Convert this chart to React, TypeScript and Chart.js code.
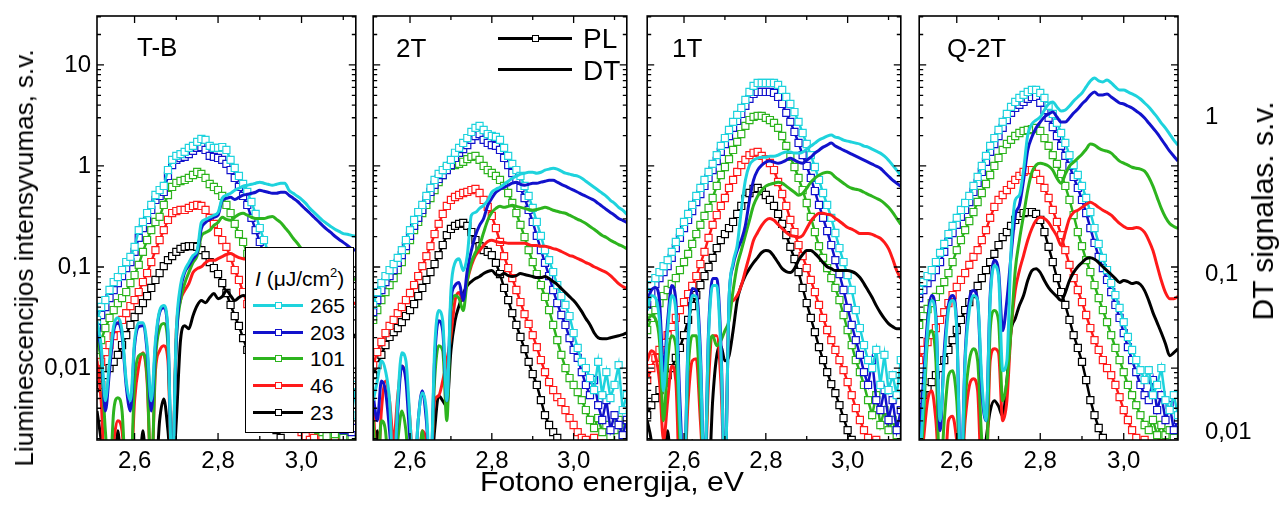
import React, { useEffect, useRef } from "react";
import { Chart, registerables } from "chart.js";

Chart.register(...registerables);

const FONT = '"Liberation Sans", Arial, Helvetica, sans-serif';

// ---------- categories / ticks ----------
const ENERGY = [
  2.51, 2.52, 2.53, 2.54, 2.55, 2.56, 2.57, 2.58, 2.59, 2.6,
  2.61, 2.62, 2.63, 2.64, 2.65, 2.66, 2.67, 2.68, 2.69, 2.7,
  2.71, 2.72, 2.73, 2.74, 2.75, 2.76, 2.77, 2.78, 2.79, 2.8,
  2.81, 2.82, 2.83, 2.84, 2.85, 2.86, 2.87, 2.88, 2.89, 2.9,
  2.91, 2.92, 2.93, 2.94, 2.95, 2.96, 2.97, 2.98, 2.99, 3.0,
  3.01, 3.02, 3.03, 3.04, 3.05, 3.06, 3.07, 3.08, 3.09, 3.1,
  3.11, 3.12, 3.13,
];
const INTENSITY_LABELS = ["265", "203", "101", "46", "23"];
const SERIES_COLORS = ["#1ED3DD", "#1212CC", "#2DB41E", "#FF1A1A", "#000000"];
const PANEL_NAMES = ["T-B", "2T", "1T", "Q-2T"];
const X_MAJOR_TICKS = [2.6, 2.8, 3.0];
const X_TICK_LABELS = ["2,6", "2,8", "3,0"];
const X_MINOR_TICKS = [2.7, 2.9, 3.1];
const PL_TICKS = [0.01, 0.1, 1, 10];
const PL_TICK_LABELS = ["0,01", "0,1", "1", "10"];
const DT_TICKS = [0.01, 0.1, 1];
const DT_TICK_LABELS = ["0,01", "0,1", "1"];

// ---------- T-B ----------
const TB_PL_265 = [0.0299,0.0402,0.0471,0.0592,0.071,0.0796,0.0933,0.112,0.126,0.158,0.232,0.279,0.342,0.411,0.516,0.578,0.634,0.912,1.15,1.26,1.31,1.38,1.51,1.58,1.73,1.85,1.81,1.58,1.51,1.51,1.54,1.44,1.15,0.955,0.796,0.663,0.553,0.44,0.335,0.243,0.185,0.141,0.107,0.0796,0.0592,0.045,0.0335,0.0249,0.0189,0.0144,0.0115,0.00912,0.00727,0.00578,0.00482,0.0043,0.00384,0.00306,0.00342,0.00273,0.0076,0.0034,0.0068];
const TB_PL_203 = [0.0249,0.0335,0.0402,0.0493,0.0592,0.0694,0.0814,0.0977,0.112,0.141,0.194,0.243,0.292,0.367,0.461,0.505,0.553,0.796,1.02,1.15,1.2,1.23,1.31,1.41,1.51,1.54,1.44,1.26,1.23,1.2,1.15,1.05,0.912,0.761,0.62,0.505,0.411,0.306,0.232,0.177,0.135,0.102,0.0761,0.0565,0.043,0.0327,0.0249,0.0189,0.0151,0.012,0.00955,0.00761,0.00634,0.00528,0.00461,0.00402,0.00342,0.00306,0.00273,0.00243,0.00306,0.00232,0.00255];
const TB_PL_101 = [0.0151,0.0189,0.0249,0.0313,0.0375,0.044,0.0493,0.0565,0.0694,0.0833,0.105,0.141,0.185,0.232,0.279,0.313,0.411,0.516,0.62,0.679,0.71,0.727,0.761,0.814,0.872,0.833,0.761,0.663,0.62,0.578,0.505,0.411,0.342,0.267,0.212,0.177,0.135,0.102,0.0778,0.0592,0.045,0.0335,0.0255,0.0189,0.0144,0.0115,0.00912,0.00694,0.00553,0.00461,0.00384,0.0032,0.00273,0.00243,0.00232,0.00212,0.00255,0.00222,0.00273,0.00203,0.00243,0.00212,0.00243];
const TB_PL_46 = [0.00852,0.0115,0.0144,0.0169,0.0207,0.0249,0.0299,0.035,0.0411,0.0471,0.0565,0.071,0.0872,0.112,0.147,0.185,0.232,0.292,0.342,0.358,0.367,0.367,0.384,0.402,0.411,0.402,0.367,0.306,0.267,0.222,0.185,0.158,0.123,0.0933,0.0744,0.0565,0.043,0.0327,0.0249,0.0189,0.0144,0.0115,0.00872,0.0068,0.0054,0.0043,0.00358,0.00306,0.00267,0.00232,0.00212,0.00194,0.00203,0.0017,0.00212,0.0018,0.0016,0.0019,0.0017,0.0015,0.002,0.0017,0.0015];
const TB_PL_23 = [0.0054,0.0068,0.00852,0.01,0.0115,0.0135,0.0169,0.0212,0.0267,0.032,0.0375,0.044,0.0516,0.062,0.0744,0.0872,0.102,0.117,0.128,0.141,0.151,0.158,0.161,0.161,0.158,0.147,0.131,0.112,0.0977,0.0852,0.0694,0.0553,0.0421,0.0327,0.0261,0.0198,0.0151,0.0115,0.00872,0.00663,0.00505,0.00384,0.00306,0.00243,0.00203,0.0017,0.0012,0.0012,0.0012,0.0012,0.0012,0.0012,0.0012,0.0012,0.0012,0.0012,0.0012,0.0012,0.0012,0.0012,0.0012,0.0012,0.0012];
const TB_DT_265 = [0.0509,0.0353,0.0158,0.0283,0.0473,0.0532,0.044,0.0211,0.0158,0.038,0.0495,0.0495,0.0353,0.0158,0.038,0.059,0.0635,0.044,0.005,0.044,0.0851,0.106,0.119,0.132,0.142,0.214,0.224,0.231,0.238,0.248,0.305,0.319,0.328,0.343,0.353,0.364,0.369,0.374,0.38,0.386,0.38,0.374,0.369,0.374,0.38,0.38,0.343,0.328,0.314,0.3,0.283,0.263,0.248,0.234,0.221,0.211,0.202,0.194,0.188,0.182,0.18,0.177,0.175];
const TB_DT_203 = [0.044,0.0328,0.0136,0.0245,0.044,0.0495,0.0409,0.0196,0.0136,0.0353,0.0467,0.0473,0.0328,0.0136,0.0353,0.0573,0.0616,0.0409,0.005,0.038,0.0791,0.103,0.114,0.126,0.138,0.196,0.214,0.224,0.231,0.238,0.296,0.305,0.309,0.3,0.309,0.319,0.323,0.328,0.333,0.343,0.338,0.333,0.328,0.328,0.333,0.333,0.319,0.305,0.292,0.275,0.259,0.245,0.231,0.218,0.205,0.194,0.185,0.175,0.167,0.16,0.153,0.146,0.142];
const TB_DT_101 = [0.038,0.0283,0.0102,0.005,0.0136,0.0165,0.0136,0.005,0.005,0.0211,0.0305,0.0314,0.0227,0.005,0.0283,0.0453,0.0488,0.0353,0.005,0.038,0.0683,0.0876,0.103,0.119,0.132,0.175,0.185,0.191,0.205,0.214,0.231,0.224,0.221,0.231,0.241,0.245,0.238,0.231,0.227,0.227,0.227,0.231,0.234,0.224,0.214,0.199,0.185,0.17,0.158,0.146,0.136,0.128,0.121,0.114,0.109,0.106,0.103,0.1,0.0985,0.0971,0.0957,0.0943,0.0929];
const TB_DT_46 = [0.0283,0.0158,0.005,0.005,0.0088,0.0118,0.0102,0.005,0.005,0.0158,0.0263,0.0319,0.0211,0.005,0.0245,0.0328,0.0353,0.0283,0.005,0.044,0.0683,0.0791,0.0876,0.103,0.109,0.112,0.119,0.123,0.123,0.126,0.13,0.134,0.136,0.132,0.128,0.126,0.125,0.123,0.121,0.119,0.118,0.116,0.114,0.109,0.103,0.0971,0.0916,0.0864,0.0826,0.0791,0.0768,0.0746,0.0724,0.0714,0.0703,0.0693,0.0683,0.0673,0.0673,0.0663,0.0663,0.0663,0.0654];
const TB_DT_23 = [0.0136,0.0088,0.005,0.005,0.005,0.0102,0.005,0.005,0.005,0.005,0.005,0.0102,0.005,0.005,0.005,0.0118,0.0162,0.0102,0.005,0.0118,0.038,0.0473,0.0453,0.0548,0.0635,0.0683,0.0663,0.0714,0.0757,0.0703,0.0724,0.0791,0.0735,0.0683,0.0714,0.0735,0.0724,0.0703,0.0683,0.0663,0.0644,0.0635,0.0625,0.0607,0.059,0.0573,0.0556,0.054,0.0525,0.0509,0.0495,0.048,0.0467,0.0453,0.0446,0.044,0.0434,0.0427,0.0421,0.0421,0.0415,0.0415,0.0409];

// ---------- 2T ----------
const T2_PL_265 = [0.0421,0.0565,0.0694,0.0814,0.0933,0.107,0.123,0.147,0.185,0.232,0.292,0.35,0.411,0.505,0.606,0.727,0.833,0.912,1,1.15,1.35,1.51,1.69,1.89,2.17,2.38,2.49,2.27,2.07,1.98,1.94,1.81,1.51,1.26,1.05,0.912,0.796,0.634,0.505,0.384,0.279,0.203,0.147,0.117,0.0892,0.0663,0.0516,0.0421,0.0327,0.0222,0.0158,0.0115,0.01,0.00796,0.00606,0.0115,0.0054,0.00912,0.00505,0.0068,0.0107,0.00384,0.0054];
const T2_PL_203 = [0.0358,0.0471,0.0592,0.071,0.0814,0.0933,0.11,0.131,0.161,0.203,0.255,0.306,0.367,0.461,0.553,0.649,0.744,0.814,0.912,1.02,1.2,1.35,1.47,1.61,1.81,1.98,2.07,1.81,1.69,1.61,1.58,1.44,1.2,1.02,0.852,0.727,0.606,0.482,0.367,0.279,0.203,0.147,0.11,0.0814,0.0592,0.044,0.0335,0.0267,0.0198,0.0151,0.0126,0.00912,0.0068,0.0054,0.00761,0.0043,0.00306,0.00482,0.00243,0.00342,0.00273,0.00217,0.00306];
const T2_PL_101 = [0.0299,0.0375,0.0471,0.0565,0.0663,0.0778,0.0933,0.112,0.147,0.185,0.232,0.279,0.342,0.411,0.482,0.578,0.694,0.814,0.955,1,1.02,1.05,1.1,1.17,1.23,1.26,1.15,1,0.912,0.852,0.796,0.727,0.634,0.54,0.43,0.342,0.261,0.198,0.147,0.112,0.0852,0.0663,0.0505,0.0375,0.0267,0.0189,0.0135,0.01,0.00796,0.0068,0.00578,0.00482,0.00384,0.00306,0.00255,0.0032,0.00232,0.00273,0.00212,0.00243,0.00306,0.00217,0.00255];
const T2_PL_46 = [0.0107,0.0144,0.0181,0.0222,0.0261,0.0299,0.035,0.0402,0.0471,0.0553,0.0663,0.0814,0.102,0.128,0.161,0.212,0.267,0.335,0.402,0.461,0.493,0.516,0.54,0.553,0.578,0.592,0.54,0.461,0.393,0.32,0.243,0.177,0.128,0.0977,0.0778,0.0592,0.045,0.0342,0.0273,0.0212,0.0161,0.012,0.00912,0.00727,0.00606,0.00516,0.00461,0.00384,0.0032,0.00273,0.00232,0.00203,0.00194,0.0017,0.00203,0.0016,0.0018,0.0015,0.0017,0.0015,0.0017,0.0015,0.0016];
const T2_PL_23 = [0.00852,0.0107,0.0135,0.0169,0.0203,0.0227,0.0249,0.0285,0.0327,0.0375,0.043,0.0516,0.062,0.0744,0.0892,0.107,0.131,0.165,0.207,0.238,0.255,0.267,0.273,0.255,0.222,0.185,0.161,0.147,0.141,0.131,0.11,0.0852,0.062,0.0471,0.035,0.0267,0.0203,0.0154,0.0115,0.00872,0.0068,0.00482,0.00342,0.00273,0.00232,0.00203,0.0012,0.0012,0.0012,0.0012,0.0012,0.0012,0.0012,0.0012,0.0012,0.0012,0.0012,0.0012,0.0012,0.0012,0.0012,0.0012,0.0012];
const T2_DT_265 = [0.0158,0.0211,0.0283,0.0245,0.0158,0.005,0.0158,0.0319,0.0283,0.0118,0.005,0.0118,0.0177,0.0136,0.005,0.0328,0.059,0.0509,0.0158,0.0791,0.119,0.126,0.106,0.132,0.238,0.248,0.263,0.275,0.296,0.333,0.348,0.358,0.374,0.391,0.409,0.421,0.434,0.44,0.446,0.446,0.44,0.446,0.46,0.467,0.473,0.467,0.453,0.44,0.434,0.427,0.421,0.409,0.391,0.374,0.358,0.343,0.328,0.314,0.296,0.283,0.267,0.256,0.241];
const T2_DT_203 = [0.017,0.0118,0.0211,0.0183,0.0102,0.005,0.0136,0.0263,0.0211,0.0088,0.005,0.0118,0.0183,0.0118,0.005,0.0283,0.0509,0.044,0.0158,0.0683,0.0851,0.0889,0.0683,0.106,0.142,0.177,0.205,0.227,0.275,0.305,0.333,0.348,0.358,0.369,0.38,0.386,0.374,0.369,0.374,0.38,0.38,0.386,0.391,0.397,0.397,0.386,0.374,0.364,0.353,0.343,0.333,0.323,0.314,0.305,0.296,0.283,0.271,0.259,0.248,0.238,0.227,0.221,0.214];
const T2_DT_101 = [0.0118,0.005,0.0118,0.0102,0.005,0.005,0.0088,0.0136,0.0102,0.005,0.005,0.005,0.0102,0.005,0.005,0.0211,0.0353,0.0328,0.0118,0.059,0.0735,0.0703,0.059,0.0916,0.119,0.138,0.153,0.185,0.221,0.248,0.263,0.271,0.267,0.271,0.275,0.271,0.267,0.263,0.259,0.256,0.259,0.263,0.267,0.263,0.256,0.252,0.248,0.245,0.238,0.231,0.224,0.218,0.211,0.202,0.194,0.185,0.177,0.172,0.165,0.16,0.155,0.151,0.146];
const T2_DT_46 = [0.0158,0.005,0.0136,0.0211,0.0158,0.0088,0.017,0.0263,0.0227,0.0118,0.005,0.005,0.0102,0.0088,0.005,0.0158,0.017,0.0211,0.0283,0.0409,0.0683,0.0768,0.0683,0.0916,0.114,0.132,0.142,0.153,0.162,0.165,0.162,0.16,0.16,0.158,0.158,0.158,0.158,0.158,0.155,0.153,0.153,0.151,0.151,0.149,0.146,0.144,0.14,0.136,0.132,0.13,0.126,0.123,0.119,0.116,0.112,0.109,0.106,0.103,0.0985,0.0929,0.0876,0.0839,0.0814];
const T2_DT_23 = [0.005,0.0102,0.005,0.005,0.005,0.005,0.005,0.005,0.005,0.005,0.005,0.005,0.0088,0.005,0.005,0.0102,0.017,0.0158,0.0146,0.0328,0.0509,0.0635,0.0757,0.0851,0.0902,0.0943,0.0971,0.1015,0.1045,0.106,0.1,0.0985,0.1015,0.0985,0.0971,0.0985,0.1015,0.1,0.0985,0.0971,0.0957,0.0957,0.0971,0.0943,0.0902,0.0864,0.0814,0.0768,0.0724,0.0683,0.0635,0.0581,0.0525,0.048,0.0427,0.0397,0.0391,0.0391,0.0397,0.0403,0.0409,0.0415,0.0427];

// ---------- 1T ----------
const T1_PL_265 = [0.0528,0.0663,0.0778,0.0892,0.102,0.117,0.141,0.177,0.222,0.279,0.335,0.411,0.505,0.606,0.727,0.872,1.05,1.28,1.58,1.89,2.27,2.73,3.2,3.75,4.5,5.4,6.2,6.63,6.63,6.63,6.63,6.63,6.34,5.65,4.82,4.11,3.42,2.73,2.12,1.65,1.28,0.977,0.727,0.54,0.411,0.306,0.217,0.154,0.112,0.0833,0.0592,0.0375,0.0249,0.0169,0.012,0.01,0.0151,0.0068,0.0135,0.00606,0.00852,0.0054,0.012];
const T1_PL_203 = [0.0421,0.0565,0.0679,0.0778,0.0892,0.102,0.123,0.154,0.194,0.243,0.292,0.358,0.44,0.528,0.634,0.761,0.912,1.12,1.38,1.65,1.98,2.38,2.79,3.27,3.93,4.61,5.16,5.4,5.4,5.4,5.4,5.28,4.82,4.11,3.35,2.73,2.17,1.69,1.28,1,0.761,0.565,0.411,0.306,0.227,0.165,0.117,0.0852,0.0592,0.0393,0.0267,0.0189,0.0135,0.00912,0.0068,0.012,0.00482,0.00384,0.00606,0.00306,0.00482,0.00243,0.00384];
const T1_PL_101 = [0.0238,0.0313,0.0375,0.044,0.0516,0.0592,0.0679,0.0778,0.0933,0.112,0.135,0.169,0.212,0.261,0.32,0.384,0.482,0.634,0.814,0.977,1.17,1.44,1.73,2.07,2.49,2.85,3.06,3.13,3.13,2.99,2.85,2.67,2.38,1.98,1.58,1.23,0.977,0.761,0.578,0.43,0.313,0.222,0.161,0.123,0.0977,0.0778,0.062,0.0471,0.0335,0.0238,0.0169,0.012,0.00912,0.0068,0.00482,0.00342,0.0054,0.00273,0.00384,0.00243,0.00306,0.00217,0.00273];
const T1_PL_46 = [0.00761,0.01,0.0126,0.0151,0.0177,0.0212,0.0255,0.0313,0.0375,0.045,0.054,0.0649,0.0814,0.107,0.141,0.194,0.261,0.327,0.402,0.482,0.606,0.727,0.872,1.02,1.15,1.28,1.35,1.38,1.26,1.17,1.07,0.912,0.694,0.528,0.402,0.292,0.222,0.165,0.128,0.0977,0.0744,0.0565,0.0421,0.0313,0.0238,0.0189,0.0151,0.012,0.00955,0.00727,0.0054,0.00402,0.00306,0.00243,0.00203,0.0017,0.00194,0.0015,0.0017,0.0015,0.0018,0.0015,0.0017];
const T1_PL_23 = [0.00342,0.0043,0.00505,0.00606,0.0071,0.00852,0.01,0.0126,0.0158,0.0212,0.0299,0.0411,0.0528,0.0663,0.0814,0.1,0.123,0.154,0.185,0.212,0.243,0.279,0.335,0.402,0.471,0.54,0.592,0.606,0.565,0.516,0.461,0.402,0.335,0.267,0.207,0.158,0.12,0.0892,0.062,0.044,0.0313,0.0227,0.0161,0.012,0.00912,0.00694,0.00565,0.0043,0.0032,0.00243,0.00194,0.0012,0.0012,0.0012,0.0012,0.0012,0.0012,0.0012,0.0012,0.0012,0.0012,0.0012,0.0012];
const T1_DT_265 = [0.059,0.0735,0.0714,0.0509,0.0183,0.044,0.0735,0.059,0.0118,0.005,0.0353,0.0735,0.0724,0.0283,0.005,0.0409,0.0851,0.0851,0.0328,0.005,0.0683,0.119,0.153,0.256,0.397,0.495,0.532,0.548,0.556,0.556,0.564,0.564,0.573,0.59,0.599,0.599,0.59,0.59,0.599,0.625,0.654,0.683,0.714,0.735,0.757,0.768,0.746,0.735,0.714,0.703,0.693,0.683,0.673,0.654,0.644,0.625,0.607,0.59,0.564,0.532,0.495,0.46,0.427];
const T1_DT_203 = [0.0683,0.0791,0.0826,0.0683,0.0245,0.0509,0.0851,0.0683,0.0158,0.005,0.038,0.0814,0.0791,0.0328,0.005,0.044,0.0943,0.0943,0.038,0.005,0.0683,0.114,0.142,0.165,0.205,0.296,0.397,0.46,0.495,0.517,0.525,0.517,0.509,0.517,0.532,0.548,0.532,0.517,0.509,0.532,0.556,0.59,0.616,0.644,0.663,0.683,0.654,0.635,0.616,0.599,0.581,0.564,0.548,0.532,0.517,0.502,0.488,0.473,0.446,0.421,0.397,0.38,0.364];
const T1_DT_101 = [0.0509,0.0548,0.0525,0.038,0.0118,0.0283,0.0409,0.0353,0.0088,0.005,0.0245,0.0409,0.0409,0.0158,0.005,0.0283,0.0409,0.0353,0.038,0.044,0.0509,0.0791,0.114,0.142,0.177,0.221,0.275,0.314,0.343,0.364,0.374,0.38,0.386,0.38,0.364,0.348,0.333,0.319,0.328,0.353,0.386,0.409,0.427,0.44,0.446,0.44,0.415,0.397,0.38,0.364,0.353,0.348,0.343,0.333,0.323,0.314,0.305,0.296,0.283,0.267,0.248,0.227,0.208];
const T1_DT_46 = [0.0283,0.0328,0.0305,0.0211,0.0088,0.0158,0.0263,0.0211,0.005,0.005,0.0158,0.0283,0.0292,0.0118,0.005,0.0211,0.0409,0.0409,0.0211,0.005,0.059,0.0683,0.0735,0.0851,0.106,0.132,0.165,0.185,0.205,0.221,0.227,0.221,0.208,0.196,0.185,0.177,0.175,0.172,0.177,0.196,0.218,0.234,0.245,0.245,0.241,0.238,0.227,0.218,0.208,0.199,0.194,0.188,0.182,0.182,0.182,0.18,0.175,0.17,0.16,0.146,0.126,0.106,0.0943];
const T1_DT_23 = [0.0118,0.0088,0.005,0.005,0.005,0.0102,0.005,0.005,0.005,0.005,0.005,0.0088,0.005,0.005,0.005,0.005,0.0158,0.0305,0.0353,0.0283,0.0305,0.044,0.0683,0.0851,0.0985,0.109,0.119,0.128,0.138,0.142,0.14,0.13,0.119,0.109,0.1045,0.103,0.109,0.123,0.134,0.142,0.142,0.136,0.128,0.119,0.112,0.109,0.106,0.106,0.106,0.106,0.1045,0.1015,0.0957,0.0876,0.0791,0.0714,0.0635,0.0573,0.0525,0.0488,0.0467,0.0453,0.0453];

// ---------- Q-2T ----------
const Q_PL_265 = [0.0592,0.071,0.0814,0.0933,0.112,0.138,0.169,0.212,0.255,0.306,0.367,0.43,0.505,0.634,0.778,1,1.26,1.58,1.89,2.27,2.73,3.27,3.84,4.3,4.71,5.05,5.4,5.65,5.65,5.28,4.71,3.93,3.27,2.67,2.12,1.69,1.28,1.02,0.814,0.634,0.482,0.35,0.243,0.169,0.123,0.0933,0.0694,0.0528,0.0393,0.0285,0.0203,0.0151,0.012,0.00955,0.00761,0.00955,0.0054,0.0068,0.01,0.00482,0.00384,0.0054,0.00342];
const Q_PL_203 = [0.0493,0.0592,0.0694,0.0796,0.0933,0.112,0.141,0.177,0.217,0.261,0.313,0.367,0.44,0.553,0.679,0.872,1.1,1.38,1.65,1.98,2.38,2.85,3.35,3.75,4.02,4.3,4.61,4.82,4.82,4.21,3.58,2.99,2.43,1.98,1.58,1.26,1,0.778,0.606,0.461,0.342,0.243,0.173,0.126,0.0977,0.0744,0.0565,0.0421,0.0313,0.0222,0.0161,0.012,0.00912,0.0068,0.0054,0.00482,0.00761,0.00384,0.0054,0.00306,0.0043,0.00243,0.00306];
const Q_PL_101 = [0.0267,0.0327,0.0384,0.044,0.0505,0.0592,0.071,0.0872,0.112,0.147,0.185,0.232,0.285,0.35,0.44,0.54,0.663,0.814,1,1.2,1.44,1.65,1.81,1.98,2.12,2.22,2.27,2.32,2.38,2.22,1.89,1.58,1.28,1.05,0.833,0.634,0.461,0.327,0.222,0.161,0.117,0.0892,0.0663,0.0493,0.0375,0.0285,0.0212,0.0158,0.012,0.00912,0.0068,0.0054,0.0043,0.00342,0.00273,0.00243,0.00306,0.00217,0.00273,0.00217,0.00243,0.00203,0.00243];
const Q_PL_46 = [0.012,0.0151,0.0181,0.0212,0.0249,0.0299,0.0358,0.044,0.0528,0.0634,0.0744,0.0872,0.105,0.126,0.147,0.185,0.232,0.306,0.393,0.461,0.516,0.578,0.649,0.727,0.796,0.872,0.912,0.912,0.833,0.727,0.606,0.482,0.367,0.279,0.207,0.147,0.105,0.0778,0.0592,0.045,0.0335,0.0249,0.0189,0.0151,0.012,0.01,0.00852,0.0068,0.00516,0.00384,0.00306,0.00243,0.00203,0.0017,0.00194,0.0015,0.0017,0.0015,0.0018,0.0015,0.0017,0.0015,0.0016];
const Q_PL_23 = [0.00482,0.0054,0.00634,0.00727,0.00852,0.01,0.012,0.0151,0.0189,0.0238,0.0299,0.0375,0.045,0.054,0.0649,0.0778,0.0933,0.112,0.135,0.165,0.198,0.222,0.255,0.292,0.32,0.342,0.35,0.35,0.335,0.292,0.222,0.158,0.112,0.0778,0.0565,0.0421,0.0299,0.0212,0.0158,0.0115,0.00761,0.00482,0.00342,0.00255,0.00203,0.0012,0.0012,0.0012,0.0012,0.0012,0.0012,0.0012,0.0012,0.0012,0.0012,0.0012,0.0012,0.0012,0.0012,0.0012,0.0012,0.0012,0.0012];
const Q_DT_265 = [0.005,0.0158,0.044,0.0683,0.0509,0.0118,0.0283,0.059,0.0683,0.044,0.005,0.0283,0.059,0.0735,0.0683,0.0211,0.0118,0.0683,0.114,0.0985,0.0245,0.0283,0.142,0.296,0.319,0.46,0.768,0.902,0.957,1,1.108,1.21,1.246,1.158,1.092,1.108,1.175,1.264,1.341,1.422,1.553,1.696,1.772,1.696,1.671,1.721,1.647,1.553,1.486,1.486,1.443,1.401,1.361,1.302,1.228,1.158,1.076,1,0.916,0.851,0.779,0.714,0.663];
const Q_DT_203 = [0.0088,0.0211,0.0509,0.0735,0.0548,0.0102,0.0328,0.0635,0.0735,0.0473,0.005,0.0305,0.0683,0.0791,0.0683,0.0183,0.0118,0.0735,0.123,0.106,0.044,0.0683,0.132,0.238,0.275,0.397,0.616,0.746,0.851,0.929,1,1.045,1.076,1,0.929,0.929,0.985,1.06,1.124,1.21,1.283,1.381,1.443,1.381,1.381,1.401,1.341,1.283,1.228,1.21,1.175,1.141,1.092,1.045,0.985,0.916,0.851,0.791,0.724,0.663,0.607,0.564,0.525];
const Q_DT_101 = [0.005,0.0118,0.038,0.044,0.0283,0.005,0.0118,0.0227,0.0245,0.0158,0.005,0.0158,0.0283,0.0338,0.0283,0.0088,0.005,0.044,0.059,0.0509,0.0158,0.0211,0.044,0.106,0.165,0.238,0.343,0.446,0.495,0.509,0.502,0.488,0.46,0.409,0.38,0.434,0.488,0.517,0.548,0.581,0.625,0.673,0.663,0.635,0.616,0.607,0.59,0.556,0.525,0.509,0.495,0.48,0.473,0.467,0.453,0.415,0.364,0.309,0.263,0.231,0.211,0.202,0.196];
const Q_DT_46 = [0.005,0.0088,0.0158,0.0183,0.0118,0.005,0.005,0.0118,0.0126,0.0088,0.005,0.0118,0.0196,0.0218,0.0183,0.005,0.005,0.0283,0.0338,0.0319,0.0118,0.0158,0.044,0.0791,0.106,0.132,0.165,0.196,0.221,0.231,0.227,0.214,0.194,0.175,0.153,0.185,0.227,0.248,0.256,0.267,0.279,0.288,0.279,0.267,0.256,0.248,0.238,0.224,0.211,0.202,0.196,0.196,0.199,0.196,0.185,0.165,0.142,0.114,0.0916,0.0768,0.0703,0.0703,0.0724];
const Q_DT_23 = [0.005,0.005,0.005,0.005,0.005,0.005,0.005,0.005,0.005,0.005,0.005,0.0088,0.005,0.005,0.005,0.005,0.0088,0.0136,0.0158,0.0146,0.0126,0.0211,0.044,0.0525,0.0635,0.0735,0.0916,0.106,0.109,0.103,0.0916,0.0826,0.0768,0.0724,0.0683,0.0768,0.0916,0.103,0.112,0.119,0.126,0.128,0.125,0.119,0.112,0.106,0.1,0.0943,0.0889,0.0916,0.0902,0.0876,0.0889,0.0864,0.0791,0.0683,0.0573,0.0495,0.0427,0.0364,0.0305,0.0319,0.0338];

const PANELS = [
  { pl: [TB_PL_265, TB_PL_203, TB_PL_101, TB_PL_46, TB_PL_23], dt: [TB_DT_265, TB_DT_203, TB_DT_101, TB_DT_46, TB_DT_23] },
  { pl: [T2_PL_265, T2_PL_203, T2_PL_101, T2_PL_46, T2_PL_23], dt: [T2_DT_265, T2_DT_203, T2_DT_101, T2_DT_46, T2_DT_23] },
  { pl: [T1_PL_265, T1_PL_203, T1_PL_101, T1_PL_46, T1_PL_23], dt: [T1_DT_265, T1_DT_203, T1_DT_101, T1_DT_46, T1_DT_23] },
  { pl: [Q_PL_265, Q_PL_203, Q_PL_101, Q_PL_46, Q_PL_23], dt: [Q_DT_265, Q_DT_203, Q_DT_101, Q_DT_46, Q_DT_23] },
];

// ---------- layout ----------
const X_MIN = 2.51;
const X_MAX = 3.13;
const PL_MIN = 0.00194;
const PL_MAX = 30.5;
const DT_MIN = 0.0089;
const DT_MAX = 4.38;

const CANVAS_BOXES = [
  { left: 0, width: 362, padL: 0, padR: 1 },
  { left: 367, width: 266, padL: 1, padR: 1 },
  { left: 641, width: 266, padL: 1, padR: 1 },
  { left: 913, width: 367, padL: 1, padR: 0 },
];
const PANEL_LABEL_POS = [
  { x: 137, y: 32 },
  { x: 396, y: 33 },
  { x: 672, y: 33 },
  { x: 947, y: 33 },
];
const LEGEND_ROW_Y = [305, 332, 358, 385, 412];

const framePlugin = {
  id: "frameTicks",
  afterDatasetsDraw(chart: any) {
    const { ctx, chartArea: a } = chart;
    const xs = chart.scales.x;
    const ys = chart.scales.y;
    ctx.save();
    ctx.strokeStyle = "#000";
    ctx.lineWidth = 1.3;
    ctx.beginPath();
    const seg = (x1: number, y1: number, x2: number, y2: number) => {
      ctx.moveTo(x1, y1);
      ctx.lineTo(x2, y2);
    };
    X_MAJOR_TICKS.forEach((v) => {
      const p = xs.getPixelForValue(v);
      seg(p, a.bottom, p, a.bottom - 7);
      seg(p, a.top, p, a.top + 7);
    });
    X_MINOR_TICKS.forEach((v) => {
      const p = xs.getPixelForValue(v);
      seg(p, a.bottom, p, a.bottom - 4);
      seg(p, a.top, p, a.top + 4);
    });
    for (let e = -3; e <= 1; e++) {
      for (let m = 1; m <= 9; m++) {
        const v = m * Math.pow(10, e);
        if (v < PL_MIN || v > PL_MAX) continue;
        const p = ys.getPixelForValue(v);
        const len = m === 1 ? 7 : 4;
        seg(a.left, p, a.left + len, p);
        seg(a.right, p, a.right - len, p);
      }
    }
    ctx.stroke();
    ctx.lineWidth = 1.6;
    ctx.strokeRect(a.left, a.top, a.right - a.left, a.bottom - a.top);
    ctx.restore();
  },
};

function makeChart(canvas: HTMLCanvasElement, idx: number) {
  const panel = PANELS[idx];
  const box = CANVAS_BOXES[idx];
  const datasets: any[] = [];
  panel.dt.forEach((arr, k) => {
    datasets.push({
      label: "DT " + INTENSITY_LABELS[k],
      data: ENERGY.map((x, j) => ({ x, y: arr[j] })),
      yAxisID: "y2",
      borderColor: SERIES_COLORS[k],
      backgroundColor: SERIES_COLORS[k],
      borderWidth: 3,
      pointRadius: 0,
      cubicInterpolationMode: "monotone",
      order: 0,
    });
  });
  panel.pl.forEach((arr, k) => {
    datasets.push({
      label: "PL " + INTENSITY_LABELS[k],
      data: ENERGY.map((x, j) => ({ x, y: arr[j] })),
      yAxisID: "y",
      borderColor: SERIES_COLORS[k],
      backgroundColor: "#ffffff",
      borderWidth: 2.5,
      pointStyle: "rect",
      pointRadius: 5,
      pointBorderWidth: 1.2,
      pointBorderColor: SERIES_COLORS[k],
      pointBackgroundColor: "#ffffff",
      tension: 0,
      order: 1,
    });
  });

  const tickFont = { family: FONT, size: 24 };
  const showLeft = idx === 0;
  const showRight = idx === 3;
  return new Chart(canvas, {
    type: "line",
    data: { datasets },
    plugins: [framePlugin],
    options: {
      animation: false,
      responsive: false,
      maintainAspectRatio: false,
      devicePixelRatio: 1,
      events: [],
      layout: { padding: { left: box.padL, right: box.padR, top: 16, bottom: 0 } },
      plugins: { legend: { display: false }, tooltip: { enabled: false }, title: { display: false } },
      scales: {
        x: {
          type: "linear",
          position: "bottom",
          min: X_MIN,
          max: X_MAX,
          grid: { display: false, drawTicks: false },
          border: { display: false },
          ticks: {
            font: tickFont,
            color: "#000",
            padding: 7,
            maxRotation: 0,
            autoSkip: false,
            callback: (_v: any, i: number) => X_TICK_LABELS[i],
          },
          afterBuildTicks: (s: any) => {
            s.ticks = X_MAJOR_TICKS.map((value) => ({ value }));
          },
          afterFit: (s: any) => {
            s.height = 68;
          },
        },
        y: {
          type: "logarithmic",
          position: "left",
          display: showLeft,
          min: PL_MIN,
          max: PL_MAX,
          grid: { display: false, drawTicks: true, tickLength: 6 },
          border: { display: false },
          ticks: {
            font: tickFont,
            color: "#000",
            padding: 0,
            autoSkip: false,
            callback: (_v: any, i: number) => PL_TICK_LABELS[i],
          },
          afterBuildTicks: (s: any) => {
            s.ticks = PL_TICKS.map((value) => ({ value }));
          },
          afterFit: (s: any) => {
            s.width = showLeft ? 97 : 0;
          },
        },
        y2: {
          type: "logarithmic",
          position: "right",
          display: showRight,
          min: DT_MIN,
          max: DT_MAX,
          grid: { display: false, drawTicks: true, tickLength: 27 },
          border: { display: false },
          ticks: {
            font: tickFont,
            color: "#000",
            padding: 0,
            autoSkip: false,
            callback: (_v: any, i: number) => DT_TICK_LABELS[i],
          },
          afterBuildTicks: (s: any) => {
            s.ticks = DT_TICKS.map((value) => ({ value }));
          },
          afterFit: (s: any) => {
            s.width = showRight ? 102 : 0;
          },
        },
      },
    } as any,
  });
}

export default function App() {
  const refs = useRef<(HTMLCanvasElement | null)[]>([]);

  useEffect(() => {
    const charts = CANVAS_BOXES.map((_, i) => makeChart(refs.current[i] as HTMLCanvasElement, i));
    return () => {
      charts.forEach((c) => c.destroy());
    };
  }, []);

  const abs = (s: React.CSSProperties): React.CSSProperties => ({ position: "absolute", ...s });

  return (
    <div
      style={{
        position: "absolute",
        left: 0,
        top: 0,
        width: 1280,
        height: 508,
        background: "#fff",
        overflow: "hidden",
        fontFamily: FONT,
        color: "#000",
      }}
    >
      {CANVAS_BOXES.map((b, i) => (
        <canvas
          key={i}
          ref={(el) => {
            refs.current[i] = el;
          }}
          width={b.width}
          height={508}
          style={{ position: "absolute", left: b.left, top: 0, width: b.width, height: 508 }}
        />
      ))}

      {PANEL_NAMES.map((n, i) => (
        <div
          key={n}
          style={abs({ left: PANEL_LABEL_POS[i].x, top: PANEL_LABEL_POS[i].y, fontSize: 26, lineHeight: "30px", whiteSpace: "nowrap" })}
        >
          {n}
        </div>
      ))}

      {/* axis titles */}
      <div
        style={abs({
          left: 24,
          top: 258,
          transform: "translate(-50%, -50%) rotate(-90deg)",
          fontSize: 26,
          lineHeight: "30px",
          whiteSpace: "nowrap",
        })}
      >
        Liuminescencijos intensyvumas, s.v.
      </div>
      <div
        style={abs({
          left: 480,
          top: 466,
          fontSize: 28,
          lineHeight: "32px",
          whiteSpace: "nowrap",
          transform: "scaleX(1.08)",
          transformOrigin: "0 50%",
        })}
      >
        Fotono energija, eV
      </div>
      <div
        style={abs({
          left: 1263,
          top: 211,
          transform: "translate(-50%, -50%) rotate(-90deg)",
          fontSize: 30,
          lineHeight: "34px",
          whiteSpace: "nowrap",
        })}
      >
        DT signalas. s.v.
      </div>

      {/* intensity legend (panel T-B) */}
      <div
        style={abs({
          left: 245,
          top: 247,
          width: 109,
          height: 186,
          boxSizing: "border-box",
          border: "1.5px solid #000",
          background: "#fff",
        })}
      />
      <div style={abs({ left: 255, top: 266, fontSize: 21, lineHeight: "25px", whiteSpace: "nowrap" })}>
        <i>I</i> (μJ/cm<sup style={{ fontSize: 13, verticalAlign: "9px", lineHeight: 0 }}>2</sup>)
      </div>
      {INTENSITY_LABELS.map((lab, k) => (
        <React.Fragment key={lab}>
          <div style={abs({ left: 253, top: LEGEND_ROW_Y[k] - 1.5, width: 50, height: 3, background: SERIES_COLORS[k] })} />
          <div
            style={abs({
              left: 274.5,
              top: LEGEND_ROW_Y[k] - 3.5,
              width: 7,
              height: 7,
              boxSizing: "border-box",
              border: "1.2px solid " + SERIES_COLORS[k],
              background: "#fff",
            })}
          />
          <div style={abs({ left: 310, top: LEGEND_ROW_Y[k] - 12.3, fontSize: 21, lineHeight: "25px" })}>{lab}</div>
        </React.Fragment>
      ))}

      {/* PL / DT legend (panel 2T) */}
      <div style={abs({ left: 498, top: 36.5, width: 74, height: 3, background: "#000" })} />
      <div
        style={abs({
          left: 531.5,
          top: 34.5,
          width: 7,
          height: 7,
          boxSizing: "border-box",
          border: "1.2px solid #000",
          background: "#fff",
        })}
      />
      <div style={abs({ left: 583, top: 22, fontSize: 28, lineHeight: "33px" })}>PL</div>
      <div style={abs({ left: 498, top: 67.5, width: 74, height: 3, background: "#000" })} />
      <div style={abs({ left: 583, top: 54, fontSize: 28, lineHeight: "33px" })}>DT</div>
    </div>
  );
}
